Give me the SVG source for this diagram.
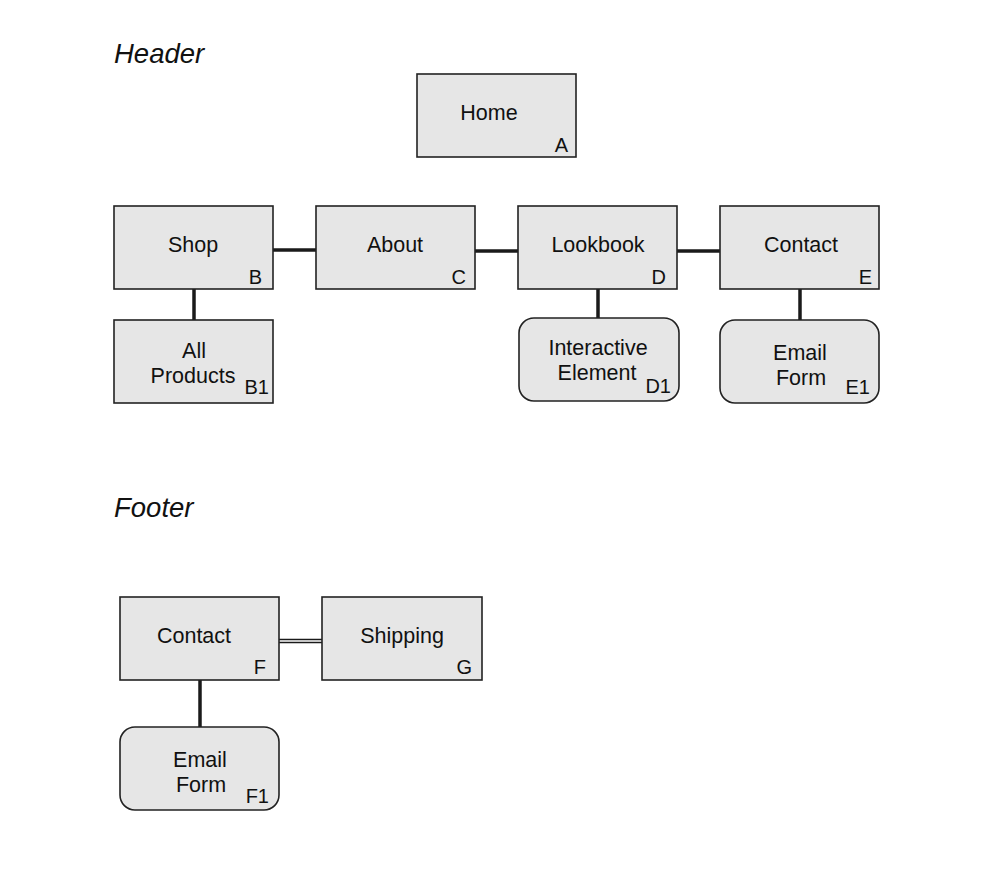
<svg xmlns="http://www.w3.org/2000/svg" width="1000" height="880" viewBox="0 0 1000 880">
<style>
text{font-family:"Liberation Sans",Arial,sans-serif;fill:#111}
.t{font-size:21.5px;text-anchor:middle}
.k{font-size:20px;text-anchor:end}
.h{font-size:27.5px;font-style:italic}
.b{fill:#e6e6e6;stroke:#222;stroke-width:1.6}
.c{stroke:#1a1a1a;stroke-width:3.5;fill:none}
.d{stroke:#1a1a1a;stroke-width:1.5;fill:none}
</style>
<rect width="1000" height="880" fill="#fff"/>
<text class="h" x="114" y="63">Header</text>
<text class="h" x="114" y="517">Footer</text>
<g id="connectors">
<line class="c" x1="273" y1="250" x2="316" y2="250"/>
<line class="c" x1="475" y1="251" x2="518" y2="251"/>
<line class="c" x1="677" y1="251" x2="720" y2="251"/>
<line class="c" x1="194" y1="289" x2="194" y2="320"/>
<line class="c" x1="598" y1="289" x2="598" y2="318"/>
<line class="c" x1="800" y1="289" x2="800" y2="320"/>
<line class="d" x1="279" y1="639.5" x2="322" y2="639.5"/>
<line class="d" x1="279" y1="642.5" x2="322" y2="642.5"/>
<line class="c" x1="200" y1="680" x2="200" y2="727"/>
</g>
<g id="A"><rect class="b" x="417" y="74" width="159" height="83"/><text class="t" x="489" y="120">Home</text><text class="k" x="568" y="152">A</text></g>
<g id="B"><rect class="b" x="114" y="206" width="159" height="83"/><text class="t" x="193" y="252">Shop</text><text class="k" x="262" y="284">B</text></g>
<g id="C"><rect class="b" x="316" y="206" width="159" height="83"/><text class="t" x="395" y="252">About</text><text class="k" x="466" y="284">C</text></g>
<g id="D"><rect class="b" x="518" y="206" width="159" height="83"/><text class="t" x="598" y="252">Lookbook</text><text class="k" x="666" y="284">D</text></g>
<g id="E"><rect class="b" x="720" y="206" width="159" height="83"/><text class="t" x="801" y="252">Contact</text><text class="k" x="872" y="284">E</text></g>
<g id="B1"><rect class="b" x="114" y="320" width="159" height="83"/><text class="t" x="194" y="358">All</text><text class="t" x="193" y="383">Products</text><text class="k" x="269" y="394">B1</text></g>
<g id="D1"><rect class="b" x="519" y="318" width="160" height="83" rx="15"/><text class="t" x="598" y="355">Interactive</text><text class="t" x="597" y="380">Element</text><text class="k" x="671" y="393">D1</text></g>
<g id="E1"><rect class="b" x="720" y="320" width="159" height="83" rx="15"/><text class="t" x="800" y="360">Email</text><text class="t" x="801" y="385">Form</text><text class="k" x="870" y="394">E1</text></g>
<g id="F"><rect class="b" x="120" y="597" width="159" height="83"/><text class="t" x="194" y="643">Contact</text><text class="k" x="266" y="674">F</text></g>
<g id="G"><rect class="b" x="322" y="597" width="160" height="83"/><text class="t" x="402" y="643">Shipping</text><text class="k" x="472" y="674">G</text></g>
<g id="F1"><rect class="b" x="120" y="727" width="159" height="83" rx="15"/><text class="t" x="200" y="767">Email</text><text class="t" x="201" y="792">Form</text><text class="k" x="269" y="803">F1</text></g>
</svg>
